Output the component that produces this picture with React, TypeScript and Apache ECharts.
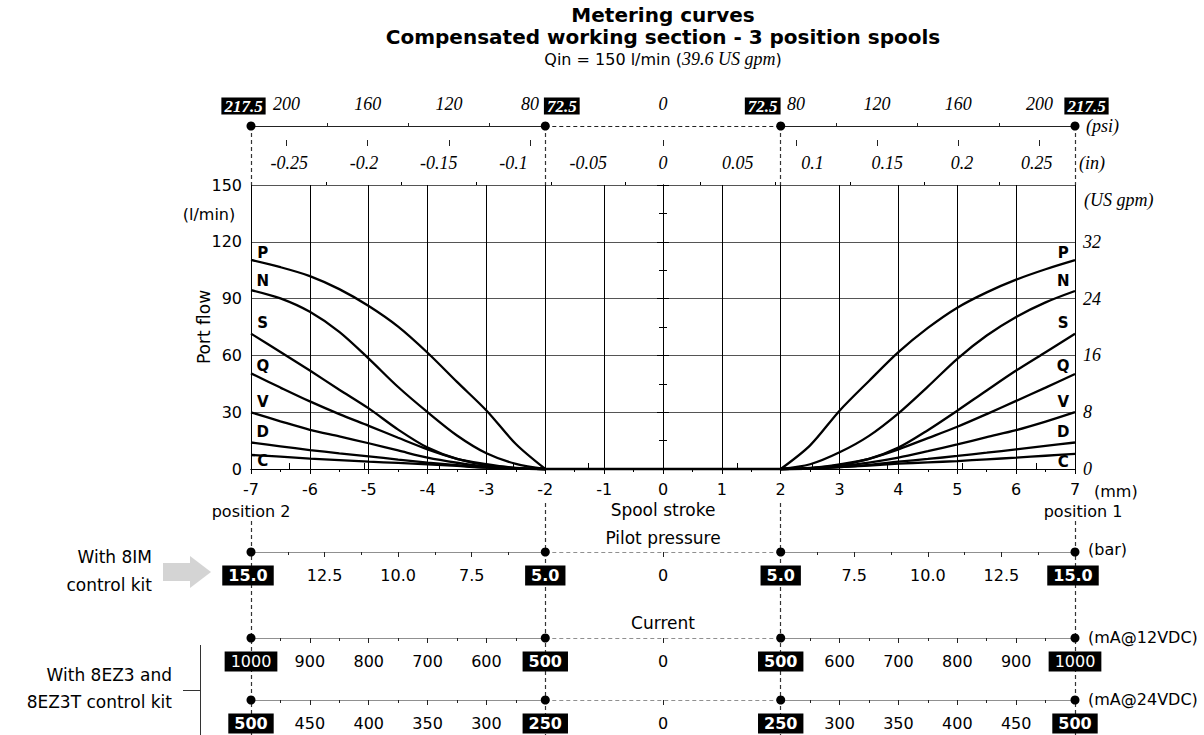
import React, { useEffect, useRef } from 'react';
import * as echarts from 'echarts';

const SANS = '"DejaVu Sans", Verdana, sans-serif';
const SERIF = '"Liberation Serif", "Times New Roman", serif';

// ---- main chart data (spool stroke in mm, port flow in l/min) ----
const curveNames = ['P', 'N', 'S', 'Q', 'V', 'D', 'C'];
const strokeLeft = [-7, -6.5, -6, -5.5, -5, -4.5, -4, -3.5, -3, -2.5, -2];
const strokeRight = [2, 2.5, 3, 3.5, 4, 4.5, 5, 5.5, 6, 6.5, 7];

const flowLeftP = [110.4, 106.6, 101.9, 95, 86.1, 75.2, 61.4, 46, 30.9, 13.2, 0];
const flowLeftN = [94.5, 90.1, 83, 72.4, 58.3, 43.3, 30, 17.7, 8.3, 2.7, 0];
const flowLeftS = [71.5, 61.8, 52, 41.9, 32, 20.8, 11.3, 5.4, 2.6, 0.6, 0];
const flowLeftQ = [50.5, 43, 35.7, 29, 22.8, 16.5, 10.4, 5.4, 2, 0.5, 0];
const flowLeftV = [29.9, 25.2, 20.7, 17.2, 13.6, 9.8, 6, 3.3, 1.2, 0.3, 0];
const flowLeftD = [14, 12, 10, 8.3, 6.7, 5, 3.4, 2, 0.7, 0.2, 0];
const flowLeftC = [7.4, 6.5, 5.5, 4.7, 3.9, 3.2, 2.5, 1.6, 0.7, 0.2, 0];

const flowRightP = [0, 12.5, 30.8, 46.5, 61.7, 74.5, 85.2, 93.3, 100, 105.5, 110.3];
const flowRightN = [0, 2.5, 8.8, 17.5, 29.4, 43.5, 58.2, 70.5, 80.3, 88, 94];
const flowRightS = [0, 0.6, 2.5, 5.4, 11.3, 20.5, 30.8, 41.5, 52, 61.7, 71.4];
const flowRightQ = [0, 0.5, 2, 5.4, 10.4, 16.3, 22.3, 29, 36, 43, 50.2];
const flowRightV = [0, 0.3, 1.6, 3.4, 6, 9.4, 13, 16.8, 20.5, 25, 30];
const flowRightD = [0, 0.2, 1, 2.2, 3.9, 5.3, 6.9, 8.6, 10.4, 12.2, 14];
const flowRightC = [0, 0.2, 1, 1.8, 2.8, 3.5, 4.2, 5.1, 6, 7, 8];

const flowLeft = [flowLeftP, flowLeftN, flowLeftS, flowLeftQ, flowLeftV, flowLeftD, flowLeftC];
const flowRight = [flowRightP, flowRightN, flowRightS, flowRightQ, flowRightV, flowRightD, flowRightC];

// curve letter anchors (data coordinates)
const curveLabelX = 6.8;
const curveLabelYLeft = [114, 99.3, 76.9, 54.6, 35.2, 19.4, 4.2];
const curveLabelYRight = [114, 99.3, 76.9, 54.6, 35.2, 19.4, 3.7];

// ---- secondary scales ----
const strokeKnots = [-7, -2, 2, 7];
const psiTicks = [200, 160, 120, 80];
const psiMinor = [180, 140, 100];
const psiEnds = [217.5, 72.5];
const inchTicks = [0.05, 0.1, 0.15, 0.2, 0.25];
const inchMinor = [0.025, 0.075, 0.125, 0.175, 0.225];
const pilotTicks = [12.5, 10.0, 7.5];
const pilotMinor = [13.75, 11.25, 8.75, 6.25];
const pilotEnds = [15.0, 5.0];
const mA12Ticks = [900, 800, 700, 600];
const mA12Minor = [950, 850, 750, 650, 550];
const mA12Ends = [1000, 500];
const mA24Ticks = [450, 400, 350, 300];
const mA24Minor = [475, 425, 375, 325, 275];
const mA24Ends = [500, 250];

const inner = strokeKnots[2];
const outer = strokeKnots[3];
const toMm = (v: number, ends: number[], side: number) =>
  side * (inner + ((outer - inner) * (v - ends[1])) / (ends[0] - ends[1]));
const key = (v: number) => (Math.round(v * 1000) / 1000).toFixed(3);

function mirrored(values: number[], ends: number[]) {
  const out: number[] = [];
  values.forEach((v) => {
    out.push(toMm(v, ends, -1));
    out.push(toMm(v, ends, 1));
  });
  return out;
}

function labelMapFor(values: number[], ends: number[], fmt: (v: number) => string) {
  const m = new Map<string, string>();
  values.forEach((v) => {
    m.set(key(toMm(v, ends, -1)), fmt(v));
    m.set(key(toMm(v, ends, 1)), fmt(v));
  });
  m.set(key(0), '0');
  return m;
}

const endTexts = (ends: number[], fmt: (v: number) => string) => [fmt(ends[0]), fmt(ends[1]), fmt(ends[1]), fmt(ends[0])];

const AX = '#222';

function secondaryAxes(
  gridIndex: number,
  position: 'top' | 'bottom',
  majorMm: number[],
  minorMm: number[],
  labels: Map<string, string>,
  margin: number,
  labelStyle: any,
  tickLen: number,
  minorLen: number
) {
  const base = { type: 'value', gridIndex, position, min: -7, max: 7, splitLine: { show: false }, axisLine: { show: false } };
  return [
    {
      ...base,
      axisTick: { show: true, customValues: majorMm, length: tickLen, lineStyle: { color: AX, width: 1 } },
      axisLabel: {
        show: true,
        customValues: majorMm,
        margin,
        color: '#000',
        ...labelStyle,
        formatter: (v: number) => labels.get(key(v)) ?? '',
      },
    },
    {
      ...base,
      axisTick: { show: true, customValues: minorMm, length: minorLen, lineStyle: { color: AX, width: 1 } },
      axisLabel: { show: false },
    },
  ];
}

function scaleLineSeries(xAxisIndex: number, yAxisIndex: number, y: number) {
  return {
    type: 'lines',
    coordinateSystem: 'cartesian2d',
    xAxisIndex,
    yAxisIndex,
    silent: true,
    z: 3,
    lineStyle: { color: AX, width: 1.2, opacity: 1 },
    data: [
      { coords: [[strokeKnots[0], y], [strokeKnots[1], y]] },
      { coords: [[strokeKnots[1], y], [strokeKnots[2], y]], lineStyle: { type: [4, 3], color: AX, width: 1.2 } },
      { coords: [[strokeKnots[2], y], [strokeKnots[3], y]] },
    ],
  };
}

function dotSeries(
  xAxisIndex: number,
  yAxisIndex: number,
  y: number,
  texts: string[],
  dx: number[],
  dy: number,
  style: any
) {
  return {
    type: 'scatter',
    xAxisIndex,
    yAxisIndex,
    symbol: 'circle',
    symbolSize: 9,
    itemStyle: { color: '#000', opacity: 1 },
    silent: true,
    z: 5,
    data: strokeKnots.map((x, i) => ({
      value: [x, y],
      label: {
        show: true,
        position: 'inside',
        offset: [dx[i], dy],
        formatter: texts[i],
        backgroundColor: '#000',
        color: '#fff',
        opacity: 1,
        ...style,
      },
    })),
  };
}

export default function App() {
  const ref = useRef<HTMLDivElement>(null);

  useEffect(() => {
    if (!ref.current) return;
    const chart = echarts.init(ref.current, undefined, { renderer: 'svg' });

    const L = 251;
    const R = 1204 - 1075;

    const inchMajorMm = [0, ...inchTicks.flatMap((v) => [-v * 25.4, v * 25.4])];
    const inchMinorMm = inchMinor.flatMap((v) => [-v * 25.4, v * 25.4]);
    const inchLabels = new Map<string, string>();
    inchTicks.forEach((v) => {
      inchLabels.set(key(-v * 25.4), String(-v));
      inchLabels.set(key(v * 25.4), String(v));
    });
    inchLabels.set(key(0), '0');

    const psiLabels = labelMapFor(psiTicks, psiEnds, (v) => String(v));
    const pilotLabels = labelMapFor(pilotTicks, pilotEnds, (v) => v.toFixed(1));
    const mA12Labels = labelMapFor(mA12Ticks, mA12Ends, (v) => String(v));
    const mA24Labels = labelMapFor(mA24Ticks, mA24Ends, (v) => String(v));

    const serifItalic = { fontFamily: SERIF, fontStyle: 'italic', fontSize: 18 };
    const sansLbl = { fontFamily: SANS, fontSize: 16 };

    const grids = [
      { left: L, right: R, top: 185, height: 284 }, // 0 main
      { left: L, right: R, top: 126, height: 20 }, // 1 psi (line at top)
      { left: L, right: R, top: 532, height: 20 }, // 2 pilot (line at bottom)
      { left: L, right: R, top: 618, height: 20 }, // 3 mA 12V
      { left: L, right: R, top: 680, height: 20 }, // 4 mA 24V
      { left: L, right: R, top: 0, height: 735 }, // 5 overlay guides
    ];

    const xAxes: any[] = [
      {
        type: 'value', gridIndex: 0, position: 'bottom', min: -7, max: 7, interval: 1,
        axisLine: { show: true, lineStyle: { color: '#000', width: 1 } },
        axisTick: { show: true, length: 5, lineStyle: { color: '#000' } },
        minorTick: { show: true, splitNumber: 2, length: 3, lineStyle: { color: '#000' } },
        splitLine: { show: true, lineStyle: { color: '#000', width: 1 } },
        axisLabel: { color: '#000', margin: 12, ...sansLbl },
      },
      {
        type: 'value', gridIndex: 0, position: 'top', min: -7, max: 7,
        axisLine: { show: true, lineStyle: { color: '#000', width: 1 } },
        splitLine: { show: false },
        axisTick: { show: true, customValues: inchMajorMm, length: 6, lineStyle: { color: '#000' } },
        axisLabel: {
          show: true, customValues: inchMajorMm, margin: 13, color: '#000', ...serifItalic,
          formatter: (v: number) => inchLabels.get(key(v)) ?? '',
        },
      },
      {
        type: 'value', gridIndex: 0, position: 'top', min: -7, max: 7,
        axisLine: { show: false }, splitLine: { show: false },
        axisTick: { show: true, customValues: inchMinorMm, length: 3, lineStyle: { color: '#000' } },
        axisLabel: { show: false },
      },
      ...secondaryAxes(1, 'top', [0, ...mirrored(psiTicks, psiEnds)], mirrored(psiMinor, psiEnds), psiLabels, 13, serifItalic, 6, 3),
      ...secondaryAxes(2, 'bottom', [0, ...mirrored(pilotTicks, pilotEnds)], mirrored(pilotMinor, pilotEnds), pilotLabels, 15, sansLbl, 5, 3),
      ...secondaryAxes(3, 'bottom', [0, ...mirrored(mA12Ticks, mA12Ends)], mirrored(mA12Minor, mA12Ends), mA12Labels, 15, sansLbl, 5, 3),
      ...secondaryAxes(4, 'bottom', [0, ...mirrored(mA24Ticks, mA24Ends)], mirrored(mA24Minor, mA24Ends), mA24Labels, 15, sansLbl, 5, 3),
      { type: 'value', gridIndex: 5, min: -7, max: 7, show: false },
    ];
    // indices: 0 main, 1 inch, 2 inch minor, 3-4 psi, 5-6 pilot, 7-8 mA12, 9-10 mA24, 11 overlay

    const yAxes: any[] = [
      {
        type: 'value', gridIndex: 0, position: 'left', min: 0, max: 150, interval: 30,
        name: 'Port flow', nameLocation: 'middle', nameRotate: 90, nameGap: 39, nameMoveOverlap: false,
        nameTextStyle: { fontFamily: SANS, fontSize: 17, color: '#000' },
        axisLine: { show: true, lineStyle: { color: '#000' } },
        axisTick: { show: true, length: 6, lineStyle: { color: '#000' } },
        minorTick: { show: true, splitNumber: 2, length: 4, lineStyle: { color: '#000' } },
        splitLine: { show: true, lineStyle: { color: '#555', width: 1 } },
        axisLabel: { color: '#000', margin: 9, ...sansLbl },
      },
      {
        type: 'value', gridIndex: 0, position: 'right', min: 0, max: 40, interval: 8,
        axisLine: { show: true, lineStyle: { color: '#000' } },
        axisTick: { show: true, length: 6, lineStyle: { color: '#000' } },
        minorTick: { show: true, splitNumber: 2, length: 4, lineStyle: { color: '#000' } },
        splitLine: { show: false },
        axisLabel: { color: '#000', margin: 8, ...serifItalic, formatter: (v: number) => (v === 40 ? '' : String(v)) },
      },
      { type: 'value', gridIndex: 1, min: 0, max: 1, show: false },
      { type: 'value', gridIndex: 2, min: 0, max: 1, show: false },
      { type: 'value', gridIndex: 3, min: 0, max: 1, show: false },
      { type: 'value', gridIndex: 4, min: 0, max: 1, show: false },
      { type: 'value', gridIndex: 5, min: 0, max: 735, inverse: true, show: false },
    ];

    const series: any[] = [];
    curveNames.forEach((name, i) => {
      series.push({
        type: 'line', name, xAxisIndex: 0, yAxisIndex: 0, smooth: 0.3, symbol: 'none', clip: false,
        lineStyle: { color: '#000', width: 2.3 }, z: 4,
        data: strokeLeft.map((x, j) => [x, flowLeft[i][j]]),
      });
      series.push({
        type: 'line', name, xAxisIndex: 0, yAxisIndex: 0, smooth: 0.3, symbol: 'none', clip: false,
        lineStyle: { color: '#000', width: 2.3 }, z: 4,
        data: strokeRight.map((x, j) => [x, flowRight[i][j]]),
      });
    });
    // dead band (all curves at zero)
    series.push({
      type: 'line', xAxisIndex: 0, yAxisIndex: 0, symbol: 'none', clip: false,
      lineStyle: { color: '#000', width: 2.5 }, z: 4,
      data: [[strokeLeft[strokeLeft.length - 1], 0], [strokeRight[0], 0]],
    });
    // curve letters
    series.push({
      type: 'scatter', xAxisIndex: 0, yAxisIndex: 0, symbolSize: 0, silent: true, z: 6,
      itemStyle: { opacity: 1 },
      label: { show: true, position: 'inside', fontFamily: SANS, fontWeight: 'bold', fontSize: 15, color: '#000', formatter: (p: any) => p.data.name },
      data: [
        ...curveNames.map((n, i) => ({ name: n, value: [-curveLabelX, curveLabelYLeft[i]] })),
        ...curveNames.map((n, i) => ({ name: n, value: [curveLabelX, curveLabelYRight[i]] })),
      ],
    });

    const boxSans = { fontFamily: SANS, fontWeight: 'bold', fontSize: 16, padding: [2, 6] };

    // secondary scale lines and end dots
    series.push(scaleLineSeries(3, 2, 1));
    series.push(dotSeries(3, 2, 1, endTexts(psiEnds, (v) => String(v)), [-7.5, 16.5, -18, 11.5], -20,
      { fontFamily: SERIF, fontStyle: 'italic', fontWeight: 'bold', fontSize: 17, padding: [0, 3] }));
    series.push(scaleLineSeries(5, 3, 0));
    series.push(dotSeries(5, 3, 0, endTexts(pilotEnds, (v) => v.toFixed(1)), [-3, 0, 0, -2], 23.5, boxSans));
    series.push(scaleLineSeries(7, 4, 0));
    const d12 = dotSeries(7, 4, 0, endTexts(mA12Ends, (v) => String(v)), [0, 0, 0, 0], 23.5, boxSans);
    [0, 3].forEach((i) => { (d12.data[i].label as any).fontWeight = 'normal'; });
    series.push(d12);
    series.push(scaleLineSeries(9, 5, 0));
    series.push(dotSeries(9, 5, 0, endTexts(mA24Ends, (v) => String(v)), [0, 0, 0, 0], 23.5, boxSans));

    // vertical dashed guides
    const guideTop = [126, 185];
    const guideBottomOuter = [521, 735];
    const guideBottomInner = [503, 735];
    const guides: any[] = [];
    strokeKnots.forEach((x) => {
      guides.push({ coords: [[x, guideTop[0]], [x, guideTop[1]]] });
      const b = Math.abs(x) === outer ? guideBottomOuter : guideBottomInner;
      guides.push({ coords: [[x, b[0]], [x, b[1]]] });
    });
    series.push({
      type: 'lines', coordinateSystem: 'cartesian2d', xAxisIndex: 11, yAxisIndex: 6, silent: true, z: 1,
      lineStyle: { color: '#333', width: 1.2, type: [4, 3], opacity: 1 },
      data: guides,
    });

    const txt = (x: number, y: number, text: string, extra: any = {}) => ({
      type: 'text', x, y,
      style: { text, fill: '#000', font: `16px ${SANS}`, textVerticalAlign: 'middle', ...extra },
    });

    const graphic: any[] = [
      txt(663, 15, 'Metering curves', { font: `bold 20px ${SANS}`, textAlign: 'center' }),
      txt(663, 37, 'Compensated working section - 3 position spools', { font: `bold 20px ${SANS}`, textAlign: 'center' }),
      {
        type: 'text', x: 663, y: 59,
        style: {
          text: 'Qin = 150 l/min ({i|39.6 US gpm})', textAlign: 'center', textVerticalAlign: 'middle',
          font: `16px ${SANS}`, fill: '#000',
          rich: { i: { fontFamily: SERIF, fontStyle: 'italic', fontSize: 18, fill: '#000' } },
        },
      },
      txt(1086, 126, '(psi)', { font: `italic 18px ${SERIF}` }),
      txt(1079, 163, '(in)', { font: `italic 18px ${SERIF}` }),
      txt(1084, 200, '(US gpm)', { font: `italic 18px ${SERIF}` }),
      txt(209, 214, '(l/min)', { textAlign: 'center' }),
      txt(1094, 491, '(mm)'),
      txt(663, 510, 'Spool stroke', { textAlign: 'center', font: `17px ${SANS}` }),
      txt(251, 511, 'position 2', { textAlign: 'center' }),
      txt(1083, 511, 'position 1', { textAlign: 'center' }),
      txt(663, 538, 'Pilot pressure', { textAlign: 'center', font: `17px ${SANS}` }),
      txt(1088, 549, '(bar)'),
      txt(663, 623, 'Current', { textAlign: 'center', font: `17px ${SANS}` }),
      txt(1088, 637, '(mA@12VDC)'),
      txt(1088, 699, '(mA@24VDC)'),
      txt(152, 557, 'With 8IM', { textAlign: 'right', font: `17px ${SANS}` }),
      txt(152, 585, 'control kit', { textAlign: 'right', font: `17px ${SANS}` }),
      txt(172, 675, 'With 8EZ3 and', { textAlign: 'right', font: `17px ${SANS}` }),
      txt(172, 702, '8EZ3T control kit', { textAlign: 'right', font: `17px ${SANS}` }),
      {
        type: 'polygon',
        shape: { points: [[163, 563], [190, 563], [190, 556], [211, 572], [190, 588], [190, 581], [163, 581]] },
        style: { fill: '#d4d4d4' },
      },
      { type: 'line', shape: { x1: 200.5, y1: 645, x2: 200.5, y2: 735 }, style: { stroke: '#333', lineWidth: 1 } },
      { type: 'line', shape: { x1: 183, y1: 690.5, x2: 200.5, y2: 690.5 }, style: { stroke: '#333', lineWidth: 1 } },
    ];

    chart.setOption({
      animation: false,
      backgroundColor: '#fff',
      grid: grids,
      xAxis: xAxes,
      yAxis: yAxes,
      series,
      graphic,
    });

    return () => chart.dispose();
  }, []);

  return <div ref={ref} style={{ position: 'fixed', left: 0, top: 0, width: 1204, height: 735, background: '#fff' }} />;
}
